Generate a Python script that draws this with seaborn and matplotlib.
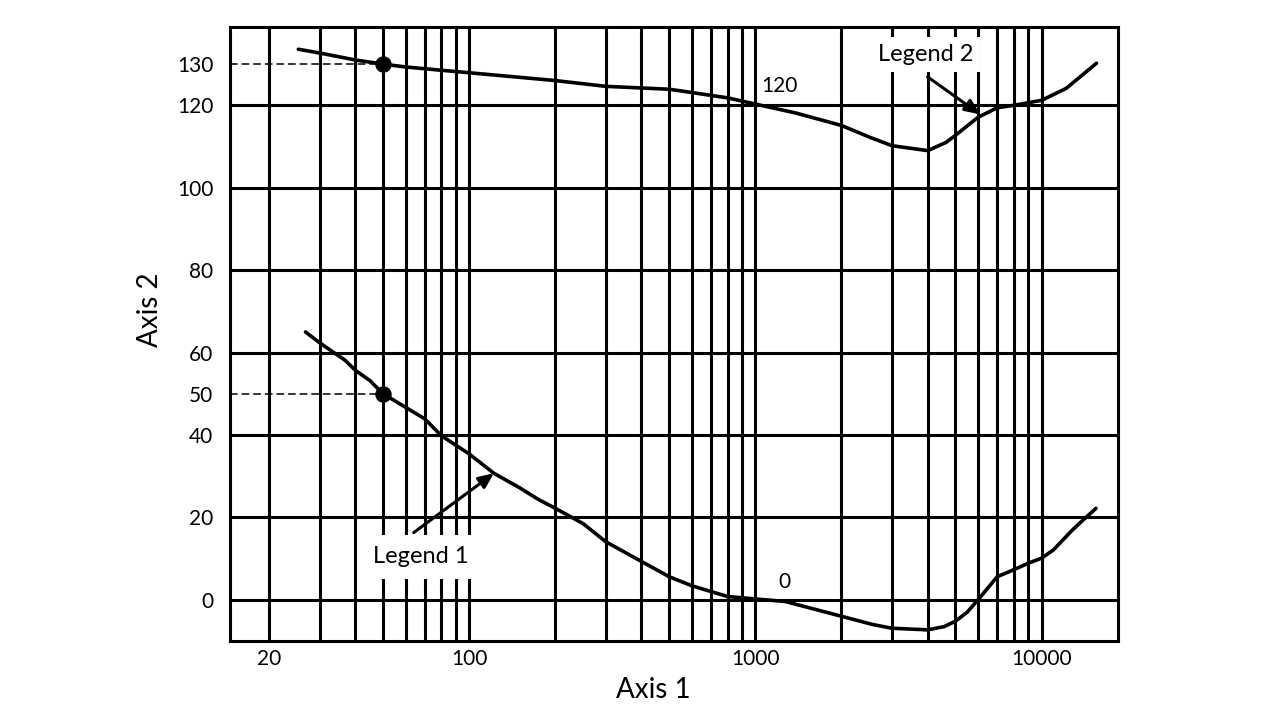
import matplotlib
matplotlib.use("Agg")
import matplotlib.pyplot as plt
import seaborn as sns
import pandas as pd

# lower curve (Legend 1)
low_x = [26.8, 30, 33, 36.9, 40, 45, 50, 60, 70, 80, 100, 122, 150, 175, 200, 250, 300,
         400, 500, 600, 700, 800, 1000, 1270, 2000, 2570, 3000, 4000, 4570, 5000, 5500,
         6000, 7000, 8000, 9000, 10000, 11000, 12800, 14200, 15500]
low_y = [65.0, 62.4, 60.4, 58.1, 55.7, 53.2, 50.0, 46.7, 43.9, 39.8, 35.4, 30.7, 27.2, 24.3,
         22.2, 18.5, 14.1, 9.3, 5.6, 3.4, 2.0, 0.8, 0.2, -0.4, -4.0, -6.0, -6.9, -7.3, -6.5,
         -5.2, -3.0, 0.0, 5.6, 7.3, 8.9, 10.1, 12.1, 16.9, 19.8, 22.2]

# upper curve (Legend 2)
up_x = [25.3, 30, 40, 50, 60, 80, 100, 200, 300, 400, 500, 600, 700, 800, 1000, 1390,
        2000, 2520, 3000, 4000, 4640, 5000, 6000, 7000, 8000, 10000, 12190, 15560]
up_y = [133.6, 132.7, 131.0, 130.0, 129.3, 128.5, 127.9, 126.0, 124.6, 124.2, 123.9, 123.1,
        122.4, 121.8, 120.3, 118.1, 115.1, 112.2, 110.2, 109.0, 111.0, 112.7, 117.1, 119.4,
        120.0, 121.2, 124.1, 130.2]

# marked points
pt_x = [50, 50]
pt_y = [130, 50]

x_major = [20, 100, 1000, 10000]
x_minor = [30, 40, 50, 60, 70, 80, 90, 200, 300, 400, 500, 600, 700, 800, 900,
           2000, 3000, 4000, 5000, 6000, 7000, 8000, 9000]
y_grid = [0, 20, 40, 60, 80, 100, 120]
y_extra = [50, 130]

sns.set_style("white")
plt.rcParams["font.family"] = ["Lato", "DejaVu Sans"]
plt.rcParams["text.color"] = "black"
plt.rcParams["axes.labelcolor"] = "black"

fig = plt.figure(figsize=(12.8, 7.2), dpi=100)
ax = fig.add_axes([230 / 1280, 79 / 720, 888 / 1280, 614 / 720])

lw = 2.2
df_low = pd.DataFrame({"x": low_x, "y": low_y})
df_up = pd.DataFrame({"x": up_x, "y": up_y})
sns.lineplot(data=df_low, x="x", y="y", sort=False, color="black", lw=2.6, ax=ax, zorder=3)
sns.lineplot(data=df_up, x="x", y="y", sort=False, color="black", lw=2.6, ax=ax, zorder=3)
sns.scatterplot(x=pt_x, y=pt_y, color="black", s=120, edgecolor="black", ax=ax, zorder=4)

ax.set_xscale("log")
ax.set_xlim(14.6, 18500)
ax.set_ylim(-10, 139)

ax.set_xticks(x_major)
ax.set_xticklabels([str(v) for v in x_major])
ax.set_xticks(x_minor, minor=True)
ax.set_xticklabels([], minor=True)
ax.set_yticks(y_grid)
ax.set_yticklabels([str(v) for v in y_grid])
ax.set_yticks(y_extra, minor=True)
ax.set_yticklabels([str(v) for v in y_extra], minor=True)

ax.grid(axis="x", which="both", color="black", lw=lw)
ax.grid(axis="y", which="major", color="black", lw=lw)
ax.set_axisbelow(True)
ax.tick_params(axis="both", which="both", length=0, labelsize=15, colors="black")
ax.tick_params(axis="x", which="both", pad=6)
ax.tick_params(axis="y", which="both", pad=12)
for sp in ax.spines.values():
    sp.set_color("black")
    sp.set_linewidth(lw)

# dashed guides to the marked points
ax.hlines(pt_y, ax.get_xlim()[0], pt_x, colors="black", lw=1.1, linestyles=(0, (5, 2.6)), zorder=2)

ax.set_xlabel("Axis 1", fontsize=20)
ax.set_ylabel("Axis 2", fontsize=20)
ax.xaxis.set_label_coords((653 - 230) / 888, -0.058)
ax.yaxis.set_label_coords(-0.076, (641 - 310) / 614)

arrow = dict(arrowstyle="-|>,head_length=0.45,head_width=0.2", color="black", lw=lw,
             shrinkA=0, shrinkB=0, mutation_scale=20)
ax.annotate("", xy=(122, 30.7), xytext=(64, 16.3), arrowprops=arrow, zorder=5)
ax.annotate("", xy=(6100, 117.8), xytext=(4000, 126.9), arrowprops=arrow, zorder=5)
ax.text(68, 10.4, "Legend 1", fontsize=17, ha="center", va="center", zorder=6,
        bbox=dict(boxstyle="square,pad=0.5", fc="white", ec="none"))
ax.text(3936, 132.3, "Legend 2", fontsize=17, ha="center", va="center", zorder=6,
        bbox=dict(boxstyle="square,pad=0.3", fc="white", ec="none"))
ax.text(1213, 124.8, "120", fontsize=15, ha="center", va="center", zorder=6)
ax.text(1263, 4.4, "0", fontsize=15, ha="center", va="center", zorder=6)

fig.savefig("out.png", dpi=100, facecolor="white")
